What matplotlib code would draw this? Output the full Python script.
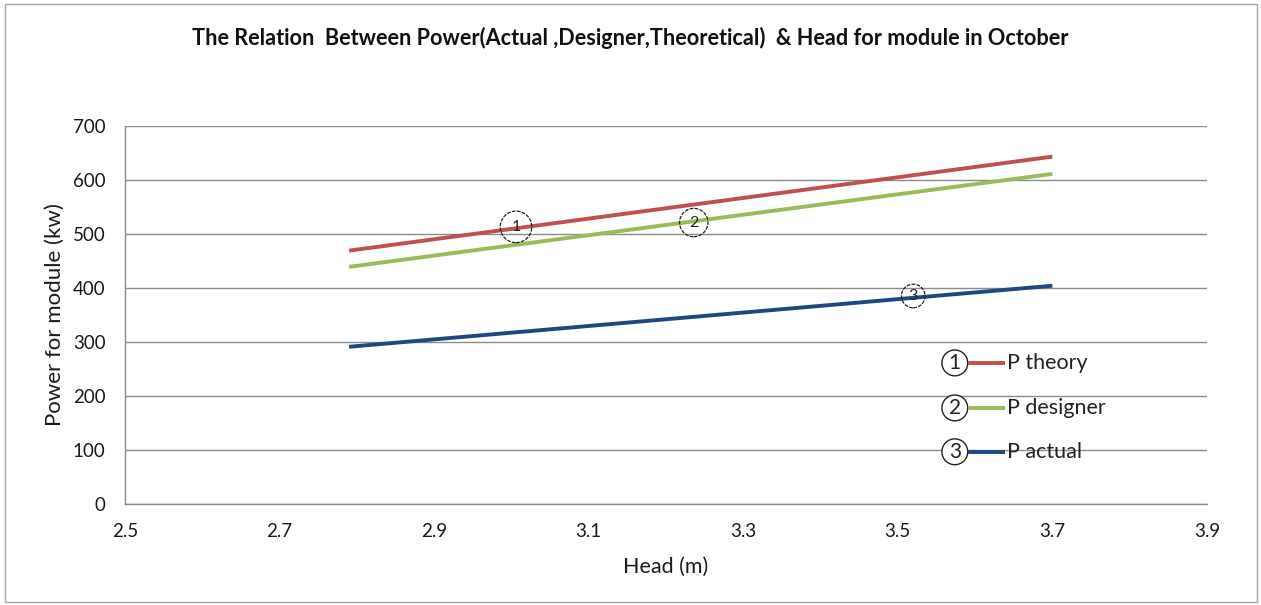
import matplotlib
matplotlib.use("Agg")
from matplotlib import pyplot as plt
from matplotlib.patches import Rectangle

# Data
head = [2.79, 3.70]
p_theory = [469, 643]
p_designer = [439, 611]
p_actual = [291, 404]

series_labels = ["P theory", "P designer", "P actual"]
series_tags = ["1", "2", "3"]
series_colors = ["#C0504D", "#9BBB59", "#1F497D"]

# circled tags placed on the lines: (head, power)
tag_x = [3.006, 3.236, 3.52]
tag_y = [513, 521, 385]

x_ticks = [2.5, 2.7, 2.9, 3.1, 3.3, 3.5, 3.7, 3.9]
y_ticks = [0, 100, 200, 300, 400, 500, 600, 700]

FONT = ["Lato", "DejaVu Sans"]


def main():
    plt.rcParams["font.family"] = FONT

    fig = plt.figure(figsize=(12.61, 6.05), dpi=100)
    ax = fig.add_axes([0.0991, 0.167, 0.858, 0.625])

    # chart-area frame like the spreadsheet export
    fig.patches.append(Rectangle((0.004, 0.005), 0.993, 0.988, transform=fig.transFigure,
                                 fill=False, edgecolor="#A6A6A6", linewidth=1.0))

    for ys, col in zip([p_theory, p_designer, p_actual], series_colors):
        ax.plot(head, ys, color=col, linewidth=2.8, solid_capstyle="butt", zorder=3)

    tag_pads = [0.55, 0.45, 0.3]
    for tx, ty, tag, pad in zip(tag_x, tag_y, series_tags, tag_pads):
        ax.text(tx, ty, tag, ha="center", va="center", fontsize=11.5, color="#222222", zorder=4,
                bbox=dict(boxstyle=f"circle,pad={pad}", facecolor="none",
                          edgecolor="#222222", linewidth=0.9, linestyle=(0, (3, 1))))

    # hand-made legend with circled numbers
    leg_y = [0.373, 0.254, 0.138]
    for ly, tag, lab, col in zip(leg_y, series_tags, series_labels, series_colors):
        ax.text(0.767, ly, tag, transform=ax.transAxes, ha="center", va="center",
                fontsize=15, color="#222222", zorder=5,
                bbox=dict(boxstyle="circle,pad=0.14", facecolor="white",
                          edgecolor="#222222", linewidth=1.0))
        ax.plot([0.779, 0.813], [ly, ly], transform=ax.transAxes, color=col,
                linewidth=2.8, solid_capstyle="butt", zorder=5)
        ax.text(0.815, ly, lab, transform=ax.transAxes, ha="left", va="center",
                fontsize=15.5, color="#222222", zorder=5)

    ax.set_xlim(2.5, 3.9)
    ax.set_ylim(0, 700)
    ax.set_xticks(x_ticks)
    ax.set_yticks(y_ticks)
    ax.set_xticklabels([f"{v:.1f}" for v in x_ticks])
    ax.tick_params(axis="both", length=0, labelsize=13.5, colors="#1a1a1a")
    ax.tick_params(axis="x", pad=14)
    ax.tick_params(axis="y", pad=14)

    ax.grid(axis="y", color="#8C8C8C", linewidth=1.0)
    ax.set_axisbelow(True)
    for side in ["top", "right"]:
        ax.spines[side].set_visible(False)
    for side in ["left", "bottom"]:
        ax.spines[side].set_color("#8C8C8C")
        ax.spines[side].set_linewidth(1.0)

    ax.set_xlabel("Head (m)", fontsize=15.5, color="#1a1a1a", labelpad=12)
    ax.set_ylabel("Power for module (kw)", fontsize=16, color="#1a1a1a", labelpad=6)

    fig.text(0.5, 0.937,
             "The Relation  Between Power(Actual ,Designer,Theoretical)  & Head for module in October",
             ha="center", va="center", fontsize=15.6, fontweight="bold", color="#111111")

    fig.savefig("out.png", dpi=100)


if __name__ == "__main__":
    main()
